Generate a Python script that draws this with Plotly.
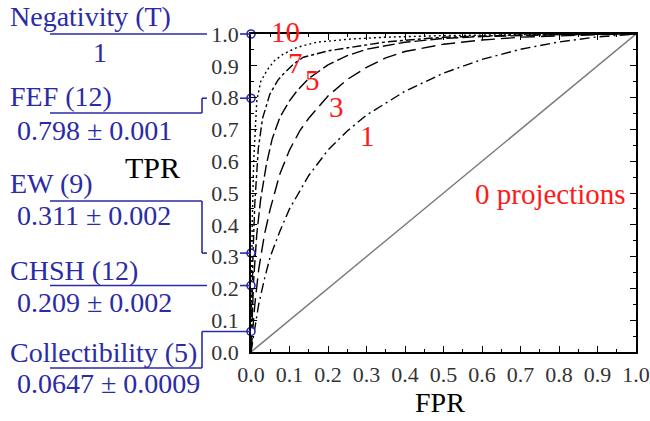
import plotly.graph_objects as go

# ---------------- data ----------------
fpr_1 = [0, 0.01, 0.02, 0.035, 0.05, 0.075, 0.1, 0.15, 0.2, 0.25, 0.3, 0.4, 0.5, 0.6, 0.7, 0.8, 0.9, 1.0]
tpr_1 = [0, 0.08, 0.15, 0.23, 0.30, 0.38, 0.45, 0.555, 0.635, 0.695, 0.745, 0.82, 0.877, 0.92, 0.952, 0.975, 0.991, 1.0]

fpr_3 = [0, 0.005, 0.01, 0.02, 0.035, 0.05, 0.075, 0.1, 0.127, 0.15, 0.2, 0.25, 0.3, 0.35, 0.4, 0.5, 0.6, 0.7, 0.8, 0.9, 1.0]
tpr_3 = [0, 0.08, 0.15, 0.26, 0.37, 0.45, 0.56, 0.635, 0.696, 0.735, 0.805, 0.857, 0.895, 0.925, 0.945, 0.968, 0.981, 0.99, 0.995, 0.998, 1.0]

fpr_5 = [0, 0.003, 0.007, 0.015, 0.025, 0.04, 0.055, 0.075, 0.1, 0.12, 0.15, 0.2, 0.25, 0.3, 0.4, 0.5, 0.6, 0.8, 1.0]
tpr_5 = [0, 0.12, 0.23, 0.37, 0.48, 0.59, 0.67, 0.738, 0.79, 0.822, 0.86, 0.903, 0.932, 0.952, 0.974, 0.986, 0.992, 0.998, 1.0]

fpr_7 = [0, 0.002, 0.005, 0.01, 0.019, 0.03, 0.049, 0.07, 0.084, 0.11, 0.136, 0.2, 0.257, 0.35, 0.5, 0.7, 1.0]
tpr_7 = [0, 0.15, 0.30, 0.47, 0.64, 0.735, 0.811, 0.855, 0.874, 0.905, 0.927, 0.947, 0.958, 0.975, 0.99, 0.997, 1.0]

fpr_10 = [0, 0.001, 0.003, 0.007, 0.015, 0.025, 0.041, 0.06, 0.084, 0.12, 0.17, 0.257, 0.35, 0.5, 0.7, 1.0]
tpr_10 = [0, 0.20, 0.40, 0.60, 0.79, 0.85, 0.885, 0.915, 0.937, 0.958, 0.974, 0.984, 0.99, 0.995, 0.998, 1.0]

fpr_0 = [0, 1]
tpr_0 = [0, 1]

curve_labels = ["10", "7", "5", "3", "1", "0 projections"]

measure_names = ["Negativity (T)", "FEF (12)", "EW (9)", "CHSH (12)", "Collectibility (5)"]
measure_values = [1.0, 0.798, 0.311, 0.209, 0.0647]
measure_texts = ["1", "0.798 \u00b1 0.001", "0.311 \u00b1 0.002", "0.209 \u00b1 0.002", "0.0647 \u00b1 0.0009"]

tick_vals = [0.0, 0.1, 0.2, 0.3, 0.4, 0.5, 0.6, 0.7, 0.8, 0.9, 1.0]

# ---------------- layout helpers ----------------
W, H = 650, 421
PL, PR, PT, PB = 251, 636, 34, 352  # plot area in px


def px_x(px):
    return (px - PL) / (PR - PL)


def px_y(py):
    return (PB - py) / (PB - PT)


SERIF = "Liberation Serif"
BLUE = "#2b2ba6"
RED = "#ff1a1a"

fig = go.Figure()

fig.add_trace(go.Scatter(x=fpr_0, y=tpr_0, mode="lines",
                         line=dict(color="#7a7a7a", width=1.4), showlegend=False))

styles = [
    (fpr_1, tpr_1, "10px,4px,2px,4px"),
    (fpr_3, tpr_3, "14px,6px"),
    (fpr_5, tpr_5, "12px,4px"),
    (fpr_7, tpr_7, "9px,3px,3px,3px"),
    (fpr_10, tpr_10, "2px,3px"),
]
for xs, ys, dash in styles:
    fig.add_trace(go.Scatter(x=xs, y=ys, mode="lines",
                             line=dict(color="black", width=1.4, dash=dash),
                             showlegend=False))

# connector lines (layout decorations)
line_style = dict(color=BLUE, width=1.6)
shapes = []
start_x = px_x(50)
elbow_x = px_x(202)
gap_l = px_x(207)
gap_r = px_x(240)
axis_x = 0.0
underline_py = [34, 113, 201, 286, 368]
has_label_gap = [True, True, True, True, False]
for val, upy, gap in zip(measure_values, underline_py, has_label_gap):
    uy = px_y(upy)
    if abs(uy - val) < 0.004:
        shapes.append(dict(type="line", xref="paper", yref="paper",
                           x0=start_x, x1=gap_l, y0=val, y1=val, line=line_style))
    else:
        shapes.append(dict(type="line", xref="paper", yref="paper",
                           x0=start_x, x1=elbow_x, y0=uy, y1=uy, line=line_style))
        shapes.append(dict(type="line", xref="paper", yref="paper",
                           x0=elbow_x, x1=elbow_x, y0=uy, y1=val, line=line_style))
        if gap:
            shapes.append(dict(type="line", xref="paper", yref="paper",
                               x0=elbow_x, x1=gap_l, y0=val, y1=val, line=line_style))
    if gap:
        shapes.append(dict(type="line", xref="paper", yref="paper",
                           x0=gap_r, x1=axis_x, y0=val, y1=val, line=line_style))
    else:
        shapes.append(dict(type="line", xref="paper", yref="paper",
                           x0=elbow_x, x1=axis_x, y0=val, y1=val, line=line_style))

fig.add_trace(go.Scatter(x=[0] * len(measure_values), y=measure_values, mode="markers",
                         marker=dict(symbol="circle", size=8, color="white",
                                     line=dict(color=BLUE, width=1.6)),
                         cliponaxis=False, showlegend=False))

annotations = []
name_py = [17, 97, 183, 270, 352]
value_py = [52, 130, 215, 302, 383]
for i, (nm, tx) in enumerate(zip(measure_names, measure_texts)):
    annotations.append(dict(text=nm, xref="paper", yref="paper", x=px_x(8), y=px_y(name_py[i]),
                            xanchor="left", yanchor="middle", showarrow=False,
                            font=dict(family=SERIF, size=28, color=BLUE)))
    if i == 0:
        annotations.append(dict(text=tx, xref="paper", yref="paper", x=px_x(100), y=px_y(value_py[i]),
                                xanchor="center", yanchor="middle", showarrow=False,
                                font=dict(family=SERIF, size=28, color=BLUE)))
    else:
        annotations.append(dict(text=tx, xref="paper", yref="paper", x=px_x(15), y=px_y(value_py[i]),
                                xanchor="left", yanchor="middle", showarrow=False,
                                font=dict(family=SERIF, size=28, color=BLUE)))

red_pos = [(285, 32), (295, 63), (312, 80), (336, 107), (367, 136)]
for lab, (rx, ry) in zip(curve_labels[:5], red_pos):
    annotations.append(dict(text=lab, xref="paper", yref="paper", x=px_x(rx), y=px_y(ry),
                            xanchor="center", yanchor="middle", showarrow=False,
                            font=dict(family=SERIF, size=29, color=RED)))
annotations.append(dict(text=curve_labels[5], xref="paper", yref="paper", x=px_x(628), y=px_y(194),
                        xanchor="right", yanchor="middle", showarrow=False,
                        font=dict(family=SERIF, size=29, color=RED)))

annotations.append(dict(text="TPR", xref="paper", yref="paper", x=px_x(152), y=px_y(167),
                        xanchor="center", yanchor="middle", showarrow=False,
                        font=dict(family=SERIF, size=30, color="black")))
annotations.append(dict(text="FPR", xref="paper", yref="paper", x=px_x(440), y=px_y(420),
                        xanchor="center", yanchor="bottom", showarrow=False,
                        font=dict(family=SERIF, size=28, color="black")))

axis_common = dict(
    range=[0, 1], tickvals=tick_vals, tickformat=".1f",
    ticks="inside", ticklen=6, tickwidth=1.4, tickcolor="black",
    showline=True, linecolor="black", linewidth=1.8, mirror="ticks",
    showgrid=False, zeroline=False, automargin=False,
    tickfont=dict(family=SERIF, size=22, color="#333333"),
    minor=dict(ticks="inside", ticklen=3, tickwidth=1.2, tickcolor="black",
               tickvals=[0.05, 0.15, 0.25, 0.35, 0.45, 0.55, 0.65, 0.75, 0.85, 0.95],
               showgrid=False),
)

fig.update_layout(
    width=W, height=H,
    margin=dict(l=PL, r=W - PR, t=PT, b=H - PB, autoexpand=False),
    paper_bgcolor="white", plot_bgcolor="white",
    font=dict(family=SERIF),
    xaxis=dict(**axis_common, ticklabelstandoff=2),
    yaxis=dict(**axis_common, ticklabelstandoff=6),
    shapes=shapes,
    annotations=annotations,
    showlegend=False,
)

fig.write_html("out.html",
               config={"displayModeBar": False},
               post_script="document.body.style.margin='0px';document.body.style.overflow='hidden';")
